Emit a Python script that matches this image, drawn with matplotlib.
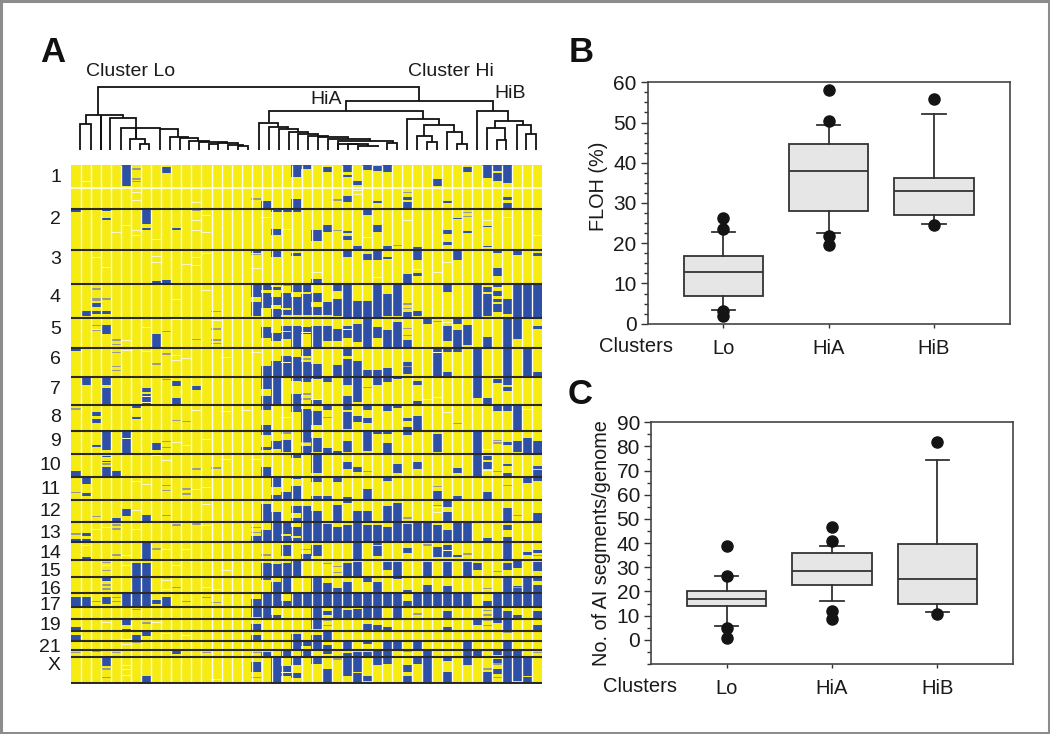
import numpy as np
import matplotlib
matplotlib.use("Agg")
import matplotlib.pyplot as plt
from matplotlib.colors import ListedColormap
from matplotlib.patches import Rectangle
from matplotlib.ticker import MultipleLocator

plt.rcParams['font.family'] = ['Liberation Sans', 'DejaVu Sans']

# --- panel A: 47 tumours, blue segments (col, from, to)
n_cols = 47
blue_top = [  # chr 1-3
    (5,408,470),(9,414,433),(22,408,443),(23,408,420),(25,415,430),(27,408,430),(27,437,443),(28,455,467),
    (29,408,423),(30,410,425),(31,408,430),(36,450,470),(39,413,430),(41,408,447),(42,408,425),(42,432,455),(43,408,462),
    (0,538,550),(3,538,546),(3,568,573),(7,538,584),(7,598,604),(10,598,602),(19,517,538),(20,538,550),(20,600,617),
    (21,538,550),(22,510,550),(24,604,637),(25,588,608),(27,502,520),(27,606,613),(27,622,633),(29,540,557),
    (30,516,523),(30,588,610),(33,503,512),(33,520,538),(37,516,523),(37,604,615),(37,640,648),(38,567,571),
    (39,607,613),(41,590,595),(43,505,513),(43,523,537),
    (18,661,672),(20,661,685),(22,671,680),(24,750,763),(27,661,683),(28,650,661),(29,675,693),(30,661,693),
    (31,650,661),(31,685,689),(34,655,693),(33,736,763),(34,731,742),(38,661,693),(41,650,654),(42,661,673),
    (42,718,740),(44,661,678),(46,672,682),(8,755,763),(9,753,763),
]
blue_mid = [  # chr 4-10
    (1,95,112),(2,73,83),(2,95,105),(3,97,105),(18,12,55),(18,70,110),(19,12,33),(19,43,88),(20,25,32),(20,53,77),
    (20,90,115),(21,43,88),(21,92,108),(22,17,38),(22,53,108),(23,12,38),(23,45,108),(24,42,70),(24,85,108),(25,68,108),
    (26,12,35),(26,60,110),(27,12,115),(28,65,115),(29,65,115),(30,12,115),(31,45,110),(32,12,110),(33,98,115),(34,95,110),
    (37,12,38),(40,12,115),(41,25,38),(41,45,110),(42,12,25),(42,35,50),(42,60,70),(42,75,100),(43,60,105),(44,12,115),(45,12,115),(46,12,115),
    (3,137,165),(8,165,205),(19,143,177),(20,163,187),(21,140,155),(21,160,180),(22,140,205),(23,143,165),(24,140,205),
    (25,140,185),(26,150,187),(27,140,177),(28,135,190),(29,115,205),(30,143,177),(31,152,205),(32,130,205),(33,182,205),
    (35,115,135),(37,140,187),(38,115,135),(38,152,205),(39,137,197),(41,175,205),(43,115,205),(44,115,180),(46,140,150),
    (0,205,215),(19,262,292),(20,247,292),(21,230,292),(22,235,292),(23,205,230),(23,250,292),(24,255,292),(26,258,292),
    (27,205,230),(27,240,292),(28,245,292),(29,272,292),(30,272,292),(31,268,292),(33,250,285),(36,205,290),(37,205,220),
    (37,278,292),(38,205,220),(40,205,292),(43,205,292),(45,205,292),(46,278,292),
    (1,292,318),(3,292,318),(3,328,376),(7,345,376),(7,328,340),(10,305,322),(10,358,376),(12,320,333),(19,292,330),(19,352,376),
    (20,292,376),(22,292,307),(22,345,376),(23,292,308),(24,292,300),(24,360,376),(25,292,310),(27,292,318),(27,352,376),
    (28,292,368),(30,292,317),(31,292,308),(32,292,300),(34,306,318),(34,367,376),(40,292,358),(41,358,376),(42,300,313),
    (43,292,318),(43,325,335),
    (2,398,410),(2,420,433),(6,376,388),(6,413,420),(17,376,381),(19,376,392),(19,438,452),(22,376,400),(23,390,452),
    (24,395,438),(25,376,393),(27,376,393),(27,400,450),(28,412,428),(29,376,393),(29,417,433),(31,376,397),(32,376,388),
    (33,418,425),(33,443,452),(34,412,452),(42,376,397),(43,376,397),(44,376,452),
    (3,460,513),(5,452,523),(2,498,505),(8,492,513),(19,452,467),(19,503,513),(20,485,510),(21,483,520),(23,452,490),(23,500,523),
    (24,477,520),(25,507,523),(26,515,523),(27,485,520),(29,452,515),(30,452,465),(31,452,465),(31,492,523),(33,452,467),
    (36,465,520),(40,452,523),(43,490,497),(44,485,520),(45,477,523),(46,485,523),
    (0,575,591),(3,530,535),(3,545,550),(3,565,591),(4,575,595),(19,565,591),(22,523,537),(24,523,583),(27,550,570),(28,565,580),
    (32,555,582),(34,550,570),(38,567,582),(40,523,591),(41,530,543),(41,550,570),(43,555,562),(43,583,595),(46,560,570),(46,572,591),
    (1,591,615),(20,591,625),(22,591,600),(24,591,608),(26,591,608),(31,591,605),(45,591,612),(46,591,606),
]
blue_low = [  # chr 11-X
    (1,42,52),(20,47,59),(21,40,59),(22,20,59),(24,50,59),(25,50,59),(27,55,59),(29,30,59),(36,35,59),(38,50,59),(41,40,59),
    (4,117,126),(5,90,112),(7,107,126),(19,76,126),(20,98,126),(22,82,102),(22,118,126),(23,80,126),(24,95,126),(26,77,126),
    (27,59,72),(28,95,126),(29,95,126),(31,80,126),(32,72,126),(37,62,85),(37,98,126),(43,88,126),(46,103,126),
    (0,180,187),(1,162,172),(1,180,187),(19,152,187),(20,133,187),(21,133,165),(21,172,187),(22,145,172),(22,178,187),
    (23,133,187),(24,133,187),(25,135,187),(26,143,187),(27,137,187),(28,133,187),(29,137,187),(30,137,187),(31,145,187),
    (32,133,187),(33,135,187),(34,133,187),(35,133,187),(36,137,187),(37,152,187),(38,133,187),(39,133,187),(41,178,187),
    (43,138,152),(43,175,187),(18,170,187),
    (7,187,240),(1,235,240),(21,197,232),(23,225,240),(24,197,232),(28,187,240),(30,202,232),(30,187,197),(33,208,222),
    (36,203,235),(37,197,235),(38,228,233),(43,187,240),(45,218,228),(46,213,222),
    (6,252,340),(7,252,340),(19,252,303),(20,255,292),(21,252,340),(22,247,292),(27,252,292),(28,250,292),(31,250,272),
    (32,250,292),(35,248,292),(37,250,292),(39,250,292),(40,252,272),(43,252,272),(44,247,268),(46,250,275),
    (3,292,305),(20,310,340),(24,292,340),(25,312,340),(26,327,340),(27,310,340),(29,292,308),(30,310,340),(32,292,300),
    (33,333,340),(35,318,340),(37,322,340),(43,292,340),(44,320,340),(45,292,340),(46,292,305),(46,318,340),
    (0,355,381),(1,355,381),(3,355,375),(5,340,381),(6,340,381),(7,340,381),(8,363,375),(9,355,381),(18,360,381),
    (19,340,381),(20,340,381),(21,367,381),(22,340,381),(23,340,381),(24,340,381),(25,340,381),(26,340,381),(27,340,381),
    (28,340,381),(29,340,381),(30,340,381),(31,340,381),(32,340,381),(33,365,381),(34,340,381),(35,340,381),(36,340,381),
    (37,340,381),(38,340,381),(39,340,381),(41,365,381),(42,340,381),(43,340,381),(44,340,381),(45,340,381),(46,340,381),
    (18,381,413),(19,381,417),(20,408,417),(24,381,417),(25,395,408),(26,381,417),(27,393,417),(28,390,417),(29,381,417),
    (30,381,417),(32,381,417),(37,395,417),(42,381,417),(43,395,417),(44,408,417),(46,397,417),
    (0,443,454),(5,417,438),(5,450,460),(18,435,454),(20,417,423),(24,417,450),(29,435,454),(30,438,454),(31,443,454),
    (37,443,454),(40,417,437),(42,417,433),(43,417,454),(46,438,454),
    (0,468,482),(6,468,482),(7,454,472),(18,468,482),(22,465,482),(24,468,482),(25,460,482),
    (22,490,510),(23,485,500),(24,490,510),(25,497,510),(27,490,510),(29,482,495),(31,490,510),(32,490,510),(34,482,510),
    (39,490,510),(43,490,510),
    (10,515,525),(19,518,531),(21,510,531),(23,515,531),(25,510,525),(28,518,531),(29,518,531),(30,515,531),(31,515,531),
    (35,515,531),(39,515,531),(40,515,531),(42,515,528),(43,510,531),(44,515,531),
    (3,531,560),(7,592,610),(18,550,580),(20,531,610),(21,562,590),(22,531,558),(22,582,598),(24,531,555),(25,570,610),
    (27,522,590),(28,520,578),(28,582,610),(29,590,605),(30,531,558),(31,531,555),(33,558,578),(33,590,610),(34,531,555),
    (35,531,610),(37,531,545),(37,578,610),(39,531,558),(41,580,610),(42,540,552),(42,570,585),(43,531,610),(44,515,605),(45,531,590),(45,595,610),
]
# thin grey-blue marks (col, position)
grey_top = [(6,420),(6,450),(6,458),(12,543),(18,510),(26,513),(26,605),(33,491),(39,550),(39,563),(18,677),(0,767),(32,650)]
grey_mid = [(0,17),(2,30),(2,58),(2,63),(3,58),(3,62),(14,98),(21,20),(33,75),(33,88),(2,140),(2,155),(4,183),(4,197),(9,158),
            (12,182),(14,150),(14,183),(14,193),(33,148),(33,170),(36,128),(4,220),(4,263),(4,275),(8,255),(9,225),(23,240),(33,262),
            (9,302),(29,325),(23,345),(23,360),(0,390),(10,425),(11,427),(25,415),(38,433),(45,380),(21,462),(23,490),(42,485),(42,492),
            (9,487),(9,505),(3,555),(12,570),(14,567),(29,578),(42,578)]
grey_low = [(0,40),(9,20),(9,35),(11,30),(11,45),(36,22),(43,20),(2,112),(9,110),(33,117),(36,80),(44,110),(0,165),(4,138),(4,150),
            (10,138),(12,135),(18,145),(18,160),(8,210),(4,228),(19,228),(23,212),(35,198),(39,225),(46,230),(3,250),(3,275),(25,253),
            (26,262),(26,280),(42,277),(3,318),(3,330),(10,325),(41,328),(44,325),(2,368),(4,355),(4,368),(11,368),(13,355),(14,370),
            (5,385),(6,392),(34,405),(41,395),(41,408),(3,420),(7,432),(25,425),(25,440),(41,425),(41,440),(11,458),(43,460),
            (6,490),(0,520),(2,518),(4,520),(13,520),(18,520),(33,518),(46,520),(3,570),(3,595),(18,595),(26,540),(41,570),(42,555),(42,595)]
# thin white marks in yellow (col, position)
white_top = [(1,458),(6,490),(6,515),(12,520),(4,610),(5,590),(6,605),(6,618),(8,630),(12,575),(12,605),(13,560),(13,610),(19,565),
             (29,625),(21,600),(33,575),(43,565),(46,620),(2,685),(3,715),(8,682),(8,700),(11,705),(12,685),(12,710),(13,672),(18,718),
             (24,730),(30,745),(34,720),(36,730),(37,700),(28,483),(28,495),(30,540),(41,575)]
white_mid = [(2,150),(5,185),(7,145),(10,120),(13,35),(10,60),(14,125),(23,160),(27,150),(37,130),(38,118),(5,215),(7,218),(10,230),
             (10,245),(11,237),(15,235),(18,220),(21,250),(36,220),(7,370),(7,352),(17,395),(15,397),(12,395),(5,478),(13,480),(11,498),
             (10,490),(21,415),(24,360),(35,360),(36,355),(37,400),(41,510),(45,390),(8,530),(9,545),(15,540),(18,540),(36,525),(41,575)]
white_low = [(6,8),(13,25),(12,30),(7,15),(36,85),(36,100),(13,75),(6,95),(2,150),(3,145),(6,150),(13,140),(1,200),(5,230),(11,210),
             (9,210),(3,258),(5,260),(10,260),(15,275),(37,215),(13,325),(9,305),(9,330),(14,330),(3,430),(8,430),(11,470),(5,495),(5,480),(9,462),
             (5,560),(5,572),(5,590),(14,600),(21,580)]
grey_white_rows = [475]  # white break across chr 1 (scan position)

chrom_lines = [209.3,250.3,284.3,318.3,348.3,377.3,405.3,430.7,454.3,477,499.7,522,542.3,560,577.3,593.3,607,619,631.3,640.7,650,657,683.3]
chrom_labels = ["1","2","3","4","5","6","7","8","9","10","11","12","13","14","15","16","17","19","21","X"]
chrom_label_y = [177,218,259,296,328,359,388,417,441,464,488,510,532,552,571,588,604,625,647,665]

# dendrogram links: left x, right x, bar height, left foot, right foot (scan coords)
dendro_links = [
    (205,1167,170,255,213),(947,1388,213,243,243),(717,1180,243,275,268),(1340,1435,243,360,272),
    (168,280,255,283,265),(150,182,283,360,360),(212,212,255,360,360),(240,318,265,360,293),
    (272,390,293,360,298),(300,345,328,360,343),(330,358,343,360,360),(318,318,293,328,328),
    (390,445,298,360,320),(420,475,320,360,325),(450,505,325,360,332),(478,537,332,360,337),(507,590,337,360,342),
    (537,565,342,360,360),(565,625,340,342,347),(595,640,345,360,347),(625,655,347,360,360),
    (687,745,280,360,290),(717,775,290,360,298),(747,805,298,360,306),(777,835,306,360,312),(805,865,312,360,318),
    (835,895,318,360,322),(865,955,322,360,327),(895,1020,327,360,333),(925,1088,333,360,340),(925,985,343,360,345),
    (955,1015,343,360,348),(985,1043,348,360,352),(1072,1102,338,360,360),
    (1132,1228,268,360,285),(1183,1272,285,318,305),(1162,1207,318,360,337),(1192,1222,337,360,360),(1250,1297,305,360,343),(1282,1310,343,360,360),
    (1395,1480,272,293,285),(1370,1425,293,360,330),(1400,1428,330,360,360),(1460,1502,285,360,313),(1488,1518,313,360,360),
]

# --- panels B and C
groups = ["Lo", "HiA", "HiB"]
floh_med = [12.9, 37.9, 32.9]
floh_q1 = [6.9, 28.1, 26.9]
floh_q3 = [16.9, 44.7, 36.2]
floh_lo = [3.4, 22.5, 24.7]
floh_hi = [22.9, 49.5, 52.2]
floh_out = [[26.3, 23.5, 3.2, 1.8], [58, 50.5, 21.7, 19.5], [55.8, 24.5]]

ai_med = [17, 28.5, 25]
ai_q1 = [14, 22.8, 15]
ai_q3 = [20.3, 36, 39.5]
ai_lo = [5.8, 16, 11.5]
ai_hi = [26.5, 39, 74.5]
ai_out = [[38.8, 26.5, 5, 0.8], [46.5, 40.8, 11.8, 8.5], [82, 10.8]]

W, H = 1050, 734
fig = plt.figure(figsize=(W / 100, H / 100), dpi=100, facecolor="white")


def px_axes(left, top, right, bottom):
    return fig.add_axes([left / W, 1 - bottom / H, (right - left) / W, (bottom - top) / H])


# matrix at half pixel resolution
y_top, y_bot = 165.0, 683.5
res = 2
mat = np.zeros((int((y_bot - y_top) * res), n_cols), dtype=int)


def mark(col, y0, y1, val):
    i0 = max(int((y0 - y_top) * res), 0)
    i1 = max(int((y1 - y_top) * res), i0 + 1)
    mat[i0:i1, col] = val


for base, segs in [(30, blue_top), (280, blue_mid), (480, blue_low)]:
    for c, a, b in segs:
        mark(c, base + a / 3, base + b / 3, 1)
for base, ticks in [(30, grey_top), (280, grey_mid), (480, grey_low)]:
    for c, a in ticks:
        mark(c, base + a / 3 - 0.7, base + a / 3 + 0.7, 2)
for base, ticks in [(30, white_top), (280, white_mid), (480, white_low)]:
    for c, a in ticks:
        mark(c, base + a / 3 - 0.5, base + a / 3 + 0.5, 3)

ax = px_axes(71.3, y_top, 542, y_bot)
ax.imshow(mat, cmap=ListedColormap(["#f6ec12", "#2d4fa6", "#9a9a8c", "#fbf8c8"]), vmin=0, vmax=3,
          extent=(0, n_cols, y_bot, y_top), aspect="auto", interpolation="nearest")
ax.vlines(np.arange(1, n_cols), y_top, y_bot, color="#fffdf0", lw=1.0)
for r in grey_white_rows:
    ax.hlines(30 + r / 3, 0, n_cols, color="white", lw=1.2)
ax.hlines(chrom_lines, 0, n_cols, color="#2a2a2a", lw=1.5)
ax.axis("off")

# overlay in figure pixels for dendrogram and text
ov = fig.add_axes([0, 0, 1, 1], facecolor="none")
ov.set_xlim(0, W)
ov.set_ylim(H, 0)
ov.axis("off")
ov.add_patch(Rectangle((1, 1), W - 2, H - 2, fill=False, ec="#8c8c8c", lw=2.2))

for xl, xr, yb, fl, fr in dendro_links:
    xs = [30 + xl / 3, 30 + xl / 3, 30 + xr / 3, 30 + xr / 3]
    ys = [30 + fl / 3, 30 + yb / 3, 30 + yb / 3, 30 + fr / 3]
    ov.plot(xs, ys, color="#111111", lw=1.3, solid_joinstyle="miter", solid_capstyle="butt")

for lab, y in zip(chrom_labels, chrom_label_y):
    ov.text(61, y + 1, lab, ha="right", va="center", fontsize=14, color="#1a1a1a")

ov.text(86, 71, "Cluster Lo", va="center", fontsize=14, color="#1a1a1a")
ov.text(408, 71, "Cluster Hi", va="center", fontsize=14, color="#1a1a1a")
ov.text(310, 100, "HiA", va="center", fontsize=14, color="#1a1a1a")
ov.text(494, 94, "HiB", va="center", fontsize=14, color="#1a1a1a")
for letter, x, y in [("A", 40, 52), ("B", 569, 52), ("C", 568, 395)]:
    ov.text(x, y, letter, va="center", fontsize=25, fontweight="bold", color="#111111")


def box_panel(ax, med, q1, q3, lo, hi, out, ylim, yticks, minor, ylabel):
    stats = [dict(med=m, q1=a, q3=b, whislo=l, whishi=h, fliers=f)
             for m, a, b, l, h, f in zip(med, q1, q3, lo, hi, out)]
    line = dict(color="#333333", lw=1.3)
    ax.bxp(stats, positions=[1, 2, 3], widths=0.755, patch_artist=True, showfliers=True,
           boxprops=dict(facecolor="#e6e6e6", edgecolor="#333333", lw=1.3),
           medianprops=line, whiskerprops=line, capprops=line, capwidths=0.22,
           flierprops=dict(marker="o", markerfacecolor="#141414", markeredgecolor="#141414", markersize=8))
    ax.set_xlim(0.28, 3.72)
    ax.set_ylim(*ylim)
    ax.set_yticks(yticks)
    ax.yaxis.set_minor_locator(MultipleLocator(minor))
    ax.set_xticks([1, 2, 3])
    ax.set_xticklabels(groups)
    ax.tick_params(axis="y", which="major", length=5, width=1, labelsize=15, pad=3, colors="#333333", labelcolor="#1a1a1a")
    ax.tick_params(axis="y", which="minor", length=3, width=1, colors="#333333")
    ax.tick_params(axis="x", length=3, width=1, labelsize=14.5, pad=8, colors="#333333", labelcolor="#1a1a1a")
    ax.set_ylabel(ylabel, fontsize=14.3, color="#1a1a1a")
    for s in ax.spines.values():
        s.set_color("#444444")
        s.set_linewidth(1.2)


ax_b = px_axes(647.7, 82.3, 1009.7, 323.7)
box_panel(ax_b, floh_med, floh_q1, floh_q3, floh_lo, floh_hi, floh_out, (0, 60), range(0, 61, 10), 2.5, "FLOH (%)")
ax_b.yaxis.set_label_coords((608 - 647.7) / 362, 0.57)
ov.text(599, 347, "Clusters", va="center", fontsize=14.5, color="#1a1a1a")

ax_c = px_axes(651, 422.3, 1013, 664)
box_panel(ax_c, ai_med, ai_q1, ai_q3, ai_lo, ai_hi, ai_out, (-10, 90), range(0, 91, 10), 5, "No. of AI segments/genome")
ax_c.yaxis.set_label_coords((611 - 651) / 362, 0.5)
ov.text(603, 687, "Clusters", va="center", fontsize=14.5, color="#1a1a1a")

fig.savefig("out.png", dpi=100)
